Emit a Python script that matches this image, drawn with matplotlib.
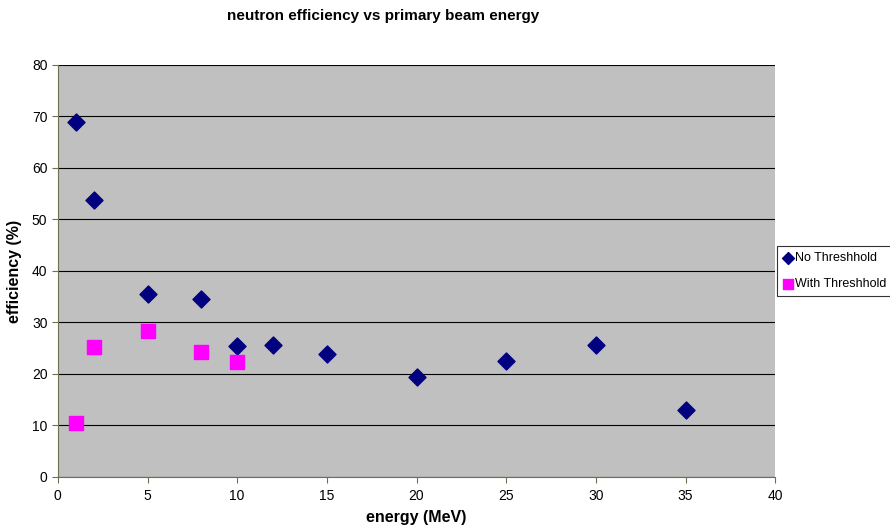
import matplotlib
matplotlib.use('Agg')
import matplotlib.pyplot as plt

plt.rcParams['font.family'] = ['Liberation Sans', 'DejaVu Sans']

energy_no = [1, 2, 5, 8, 10, 12, 15, 20, 25, 30, 35]
eff_no = [68.9, 53.8, 35.5, 34.6, 25.4, 25.7, 23.9, 19.4, 22.6, 25.7, 13.0]
energy_thr = [1, 2, 5, 8, 10]
eff_thr = [10.5, 25.2, 28.3, 24.3, 22.3]

fig = plt.figure(figsize=(8.9, 5.31), dpi=100)
ax = fig.add_axes([0.065, 0.1017, 0.806, 0.776])
ax.set_facecolor('#C0C0C0')

ax.scatter(energy_no, eff_no, marker='D', s=75, color='#000080',
           label='No Threshhold', zorder=3)
ax.scatter(energy_thr, eff_thr, marker='s', s=110, color='#FF00FF',
           label='With Threshhold', zorder=3)

ax.set_xlim(0, 40)
ax.set_ylim(0, 80)
ax.set_xticks(range(0, 41, 5))
ax.set_yticks(range(0, 81, 10))
ax.yaxis.grid(True, color='black', linewidth=0.8)
ax.set_axisbelow(True)
for s in ['top', 'right']:
    ax.spines[s].set_visible(False)
for s in ['left', 'bottom']:
    ax.spines[s].set_color('#707050')
ax.tick_params(direction='out', length=4, labelsize=10, color='#707050')
ax.tick_params(axis='x', pad=5)

ax.set_xlabel('energy (MeV)', fontsize=11.5, fontweight='bold', labelpad=5)
ax.set_ylabel('efficiency (%)', fontsize=11.5, fontweight='bold', labelpad=7)
fig.text(0.43, 0.97, 'neutron efficiency vs primary beam energy',
         ha='center', va='center', fontsize=11, fontweight='bold')

# legend sits just right of the plot area, like the Excel original
leg = ax.legend(loc='center left', bbox_to_anchor=(1.002, 0.5), fontsize=9,
                frameon=True, fancybox=False, edgecolor='black',
                handletextpad=0.05, handlelength=0.9, borderpad=0.5,
                labelspacing=1.1, borderaxespad=0, markerscale=0.7)
leg.get_frame().set_linewidth(0.8)

plt.savefig('out.png', dpi=100)
